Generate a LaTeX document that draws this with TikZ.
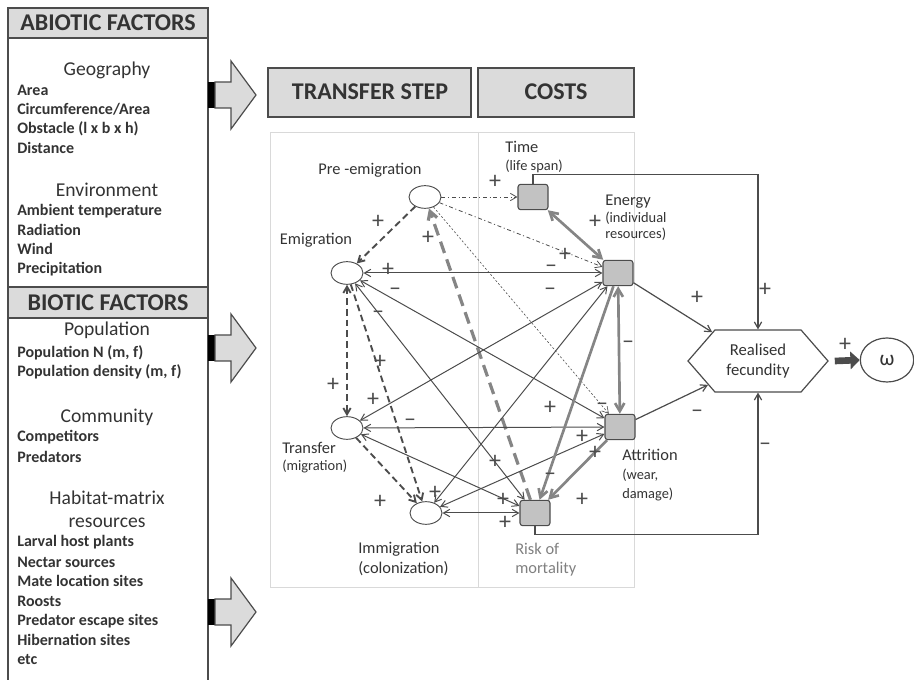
\documentclass[tikz,border=0pt]{standalone}
\usepackage{fontspec}
\setmainfont{Carlito}
\setsansfont{Carlito}
\usetikzlibrary{arrows.meta,shapes.geometric,shapes.symbols}

\definecolor{boxgray}{gray}{0.86}
\definecolor{nodegray}{gray}{0.76}
\definecolor{linegray}{gray}{0.3}
\definecolor{costgray}{gray}{0.52}
\definecolor{framegray}{gray}{0.85}
\definecolor{textgray}{gray}{0.2}

\begin{document}
\begin{tikzpicture}[x=0.75pt,y=-0.75pt,>={Straight Barb[angle=60:5.5pt]},
   header/.style={draw=linegray,line width=1.4pt,fill=boxgray},
   header text/.style={font=\fontsize{18}{20}\selectfont\bfseries,text=textgray},
   topic/.style={font=\fontsize{14.7}{17}\selectfont,text=textgray},
   item/.style={anchor=west,inner sep=0pt,font=\fontsize{12}{14}\selectfont\bfseries,text=textgray},
   block arrow/.style={draw=linegray,line width=0.9pt,fill=boxgray},
   phase/.style={ellipse,draw=linegray,line width=0.7pt,fill=white,minimum width=24pt,minimum height=17pt,inner sep=0pt},
   cost/.style={rectangle,rounded corners=2pt,draw=linegray,line width=0.8pt,fill=nodegray,minimum width=22.5pt,minimum height=19pt,inner sep=0pt},
   lbl/.style={anchor=west,inner sep=0pt,font=\fontsize{12.3}{14}\selectfont,text=textgray},
   sublbl/.style={anchor=west,inner sep=0pt,font=\fontsize{10.8}{12}\selectfont,text=textgray},
   sign/.style={inner sep=0pt,font=\fontsize{18}{18}\selectfont,text=linegray},
   thin edge/.style={<->,draw=linegray,line width=0.75pt},
   dash edge/.style={draw=linegray,line width=1.4pt,dash pattern=on 5pt off 3pt},
   dot edge/.style={->,draw=linegray,line width=0.6pt,dash pattern=on 3pt off 2pt on 0.8pt off 2pt},
   cost edge/.style={draw=costgray,line width=2pt,>={Straight Barb[angle=60:7pt]}},
   out edge/.style={->,draw=linegray,line width=0.9pt}]

  \useasboundingbox (0,0) rectangle (914,680);

  % factor panel
  \draw[header] (8,8) rectangle (208,38);
  \draw[linegray,line width=1.4pt] (8,38) rectangle (208,287);
  \draw[header] (8,287) rectangle (208,318);
  \draw[linegray,line width=1.4pt] (8,318) rectangle (208,700);
  \node[header text] (abio) at (108,23) {ABIOTIC FACTORS};
  \node[header text] (bio) at (108,303) {BIOTIC FACTORS};

  \node[topic] (geo) at (107,70) {Geography};
  \foreach \y/\t [count=\i] in {90/Area,109/{Circumference/Area},129/Obstacle (l x b x h),148/Distance,
      211/Ambient temperature,230/Radiation,249/Wind,269/Precipitation}
    \node[item] (abio\i) at (17,\y) {\t};
  \node[topic] (env) at (107,190) {Environment};

  \node[topic] (pop) at (107,330) {Population};
  \node[topic] (comm) at (107,417) {Community};
  \node[topic,align=center] (hab) at (107,509) {Habitat-matrix\\resources};
  \foreach \y/\t [count=\i] in {353/{Population N (m, f)},372/{Population density (m, f)},437/Competitors,457/Predators,
      542/Larval host plants,562/Nectar sources,581/Mate location sites,601/Roosts,
      621/Predator escape sites,640/Hibernation sites,660/etc}
    \node[item] (bio\i) at (17,\y) {\t};

  \foreach \c in {95,348,612} {
    \fill[black] (208,\c-13) rectangle (215,\c+13);
    \draw[block arrow] (215,\c-13) -- (231,\c-13) -- (231,\c-34) -- (256,\c)
      -- (231,\c+34) -- (231,\c+13) -- (215,\c+13) -- cycle;
  }

  % network frame
  \draw[header] (268,68) rectangle (471,117);
  \draw[header] (478,68) rectangle (634,117);
  \node[header text] (tstep) at (370,92) {TRANSFER STEP};
  \node[header text] (costs) at (556,92) {COSTS};
  \draw[framegray,line width=0.6pt] (270,132) rectangle (634,587);
  \draw[framegray,line width=0.6pt] (478,132) -- (478,587);

  % nodes
  \node[phase] (pre) at (425,197) {};
  \node[phase] (emi) at (347,273) {};
  \node[phase] (tra) at (347,428) {};
  \node[phase] (imm) at (426,513) {};
  \node[cost] (time) at (533,197) {};
  \node[cost] (ene) at (618,273) {};
  \node[cost] (att) at (620,427) {};
  \node[cost] (risk) at (535,513) {};
  \node[signal,signal to=east and west,signal pointer angle=98,draw=linegray,line width=0.9pt,fill=white,
        minimum width=105pt,minimum height=46.5pt,align=center,inner sep=0pt,
        font=\fontsize{12.5}{15}\selectfont,text=textgray] (fec) at (758,361) {Realised\\fecundity};
  \node[ellipse,draw=linegray,line width=0.9pt,minimum width=40pt,minimum height=33pt,
        font=\fontsize{16}{17}\selectfont,text=textgray] (om) at (887,360) {ω};

  % labels
  \node[lbl,anchor=center] (prel) at (370,170) {Pre -emigration};
  \node[lbl,anchor=center] (emil) at (316,240) {Emigration};
  \node[lbl] (tral) at (282,448) {Transfer};
  \node[sublbl] (trasub) at (282,466) {(migration)};
  \node[lbl] (imml) at (358,549) {Immigration};
  \node[lbl] (immsub) at (358,569) {(colonization)};
  \node[lbl] (timel) at (505,147) {Time};
  \node[sublbl] (timesub) at (505,166) {(life span)};
  \node[lbl] (enel) at (605,202) {Energy};
  \node[sublbl] (enesub1) at (605,218) {(individual};
  \node[sublbl] (enesub2) at (605,234) {resources)};
  \node[lbl] (attl) at (622,455) {Attrition};
  \node[sublbl] (attsub1) at (622,475) {(wear,};
  \node[sublbl] (attsub2) at (622,494) {damage)};
  \node[lbl,text=gray] (riskl) at (515,549) {Risk of};
  \node[lbl,text=gray] (risksub) at (515,569) {mortality};

  % pre-emigration effects
  \draw[dash edge,->] (pre) -- (emi);
  \draw[dash edge,<->] (emi) -- (tra);
  \draw[dash edge,->] (emi) -- (imm);
  \draw[dash edge,->] (tra) -- (imm);
  \draw[dot edge] (pre) -- (time);
  \draw[dot edge] (pre) -- (ene);
  \draw[->,draw=linegray,line width=0.45pt,dash pattern=on 1.5pt off 1.5pt] (pre) -- (att);
  \draw[->,draw=costgray,line width=2.4pt,dash pattern=on 9pt off 5pt,>={Straight Barb[angle=60:7pt]}] (risk) -- (pre);

  % step <-> cost links
  \foreach \from/\to in {ene/emi,ene/tra,ene/imm,att/emi,att/tra,att/imm,risk/emi,risk/tra,risk/imm}
    \draw[thin edge] (\from) -- (\to);

  % links between costs
  \draw[cost edge,<->] (time) -- (ene);
  \draw[cost edge,<->] (ene) -- (att);
  \draw[cost edge,->] (ene) -- (risk);
  \draw[cost edge,->] (att) -- (risk);

  % fecundity
  \draw[out edge] (ene) -- (fec);
  \draw[out edge] (att) -- (fec);
  \draw[out edge] (time.north) -- ++(0,-9) -| (fec.north);
  \draw[out edge] (risk.south) -- ++(0,8) -| (fec.south);
  \draw[linegray,line width=5pt,-{Triangle[length=7pt,width=13pt]}] (fec.east) ++(6,0) coordinate (fo) (fo) -- (om.west);

  % signs
  \foreach \x/\y/\s [count=\i] in {495/182/+,565/255/+,378/222/+,428/238/+,595/222/+,388/270/+,551/269/–,
      395/292/–,550/292/–,378/315/–,333/385/+,380/362/+,373/400/+,410/423/–,550/408/+,602/407/–,
      582/437/+,595/453/+,495/462/+,550/477/–,380/502/+,435/493/+,503/500/+,505/523/+,582/500/+,
      628/345/–,697/298/+,765/290/+,697/414/–,765/447/–,845/345/+}
    \node[sign] (sg\i) at (\x,\y) {\s};
\end{tikzpicture}
\end{document}
